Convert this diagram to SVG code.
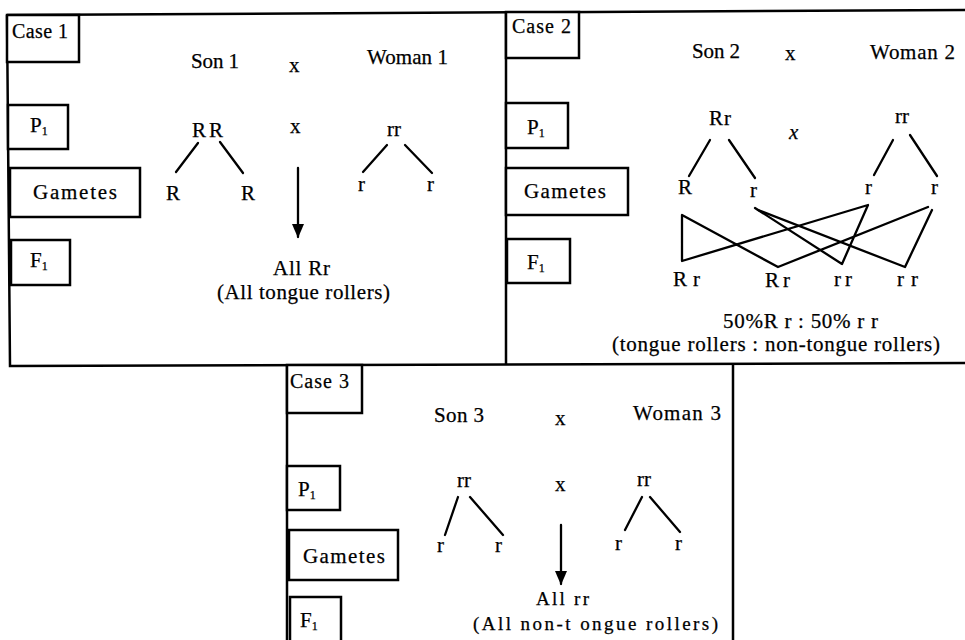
<svg xmlns="http://www.w3.org/2000/svg" width="965" height="640" viewBox="0 0 965 640">
<defs>
<style>
.t{font-family:"Liberation Serif","Times New Roman",serif;font-size:21px;fill:#000;stroke:#000;stroke-width:0.25}
.s{font-size:20px}
.m{font-size:19px}
.sub{font-size:12px}
.b{fill:#fff;stroke:#000;stroke-width:2.5}
.frame{fill:none;stroke:#000;stroke-width:2.5}
.ln{fill:none;stroke:#000;stroke-width:2.3;stroke-linecap:round;stroke-linejoin:round}
</style>
<marker id="ah" markerWidth="14" markerHeight="12" refX="13" refY="6" orient="auto" markerUnits="userSpaceOnUse" viewBox="0 0 14 12">
<path d="M0,0 L14,6 L0,12 Z" fill="#000"/>
</marker>
</defs>
<rect width="965" height="640" fill="#fff"/>

<g id="frames">
<path class="frame" d="M7,15 L965,10"/>
<path class="frame" d="M7,15 L10,366 L965,363"/>
<path class="frame" d="M506,12 L506,364"/>
<path class="frame" d="M287,366 L287,640"/>
<path class="frame" d="M733,364 L733,640"/>
</g>

<g id="case1">
<g id="c1-label"><rect class="b" x="7" y="15" width="72" height="47"/><text class="t s" x="12" y="38" textLength="56">Case 1</text></g>
<g id="c1-p1"><rect class="b" x="8" y="105" width="60" height="44"/><text class="t" x="30" y="132">P<tspan class="sub" dy="3">1</tspan></text></g>
<g id="c1-gam"><rect class="b" x="10" y="168" width="130" height="49"/><text class="t" x="33" y="199" textLength="84">Gametes</text></g>
<g id="c1-f1"><rect class="b" x="11" y="240" width="59" height="45"/><text class="t" x="30" y="267">F<tspan class="sub" dy="3">1</tspan></text></g>
<text class="t" x="191" y="68" textLength="48">Son 1</text>
<text class="t" x="289" y="72">x</text>
<text class="t" x="367" y="64" textLength="81">Woman 1</text>
<text class="t" x="192" y="137" textLength="31">RR</text>
<text class="t" x="290" y="133">x</text>
<text class="t" x="387" y="136">rr</text>
<text class="t" x="166" y="200">R</text>
<text class="t" x="241" y="200">R</text>
<text class="t" x="358" y="191">r</text>
<text class="t" x="427" y="191">r</text>
<text class="t" x="273" y="275" textLength="57">All Rr</text>
<text class="t" x="217" y="299" textLength="173">(All tongue rollers)</text>
</g>

<g id="case2">
<g id="c2-label"><rect class="b" x="506" y="12" width="73" height="46"/><text class="t s" x="512" y="33" textLength="59">Case 2</text></g>
<g id="c2-p1"><rect class="b" x="506" y="103" width="62" height="45"/><text class="t" x="527" y="134">P<tspan class="sub" dy="3">1</tspan></text></g>
<g id="c2-gam"><rect class="b" x="506" y="168" width="122" height="47"/><text class="t" x="524" y="198" textLength="82">Gametes</text></g>
<g id="c2-f1"><rect class="b" x="507" y="239" width="63" height="44"/><text class="t" x="527" y="269">F<tspan class="sub" dy="3">1</tspan></text></g>
<text class="t" x="692" y="58" textLength="48">Son 2</text>
<text class="t" x="785" y="60">x</text>
<text class="t" x="870" y="59" textLength="85">Woman 2</text>
<text class="t" x="709" y="125" textLength="22">Rr</text>
<text class="t" x="789" y="139" font-style="italic">x</text>
<text class="t" x="895" y="123">rr</text>
<text class="t" x="678" y="194">R</text>
<text class="t" x="750" y="197">r</text>
<text class="t" x="865" y="194">r</text>
<text class="t" x="931" y="194">r</text>
<text class="t" x="673" y="286" textLength="27">R r</text>
<text class="t" x="765" y="287" textLength="25">R r</text>
<text class="t" x="834" y="286" textLength="18">r r</text>
<text class="t" x="897" y="286" textLength="21">r r</text>
<text class="t" x="723" y="328" textLength="155">50%R r : 50% r r</text>
<text class="t" x="612" y="351" textLength="328">(tongue rollers : non-tongue rollers)</text>
</g>

<g id="case3">
<g id="c3-label"><rect class="b" x="287" y="365" width="75" height="48"/><text class="t s" x="290" y="388" textLength="59">Case 3</text></g>
<g id="c3-p1"><rect class="b" x="287" y="466" width="53" height="44"/><text class="t" x="298" y="496">P<tspan class="sub" dy="3">1</tspan></text></g>
<g id="c3-gam"><rect class="b" x="289" y="530" width="109" height="50"/><text class="t" x="303" y="563" textLength="82">Gametes</text></g>
<g id="c3-f1"><rect class="b" x="290" y="597" width="51" height="50"/><text class="t" x="300" y="627">F<tspan class="sub" dy="3">1</tspan></text></g>
<text class="t" x="434" y="422" textLength="50">Son 3</text>
<text class="t" x="555" y="425">x</text>
<text class="t" x="633" y="420" textLength="88">Woman 3</text>
<text class="t" x="457" y="487">rr</text>
<text class="t" x="555" y="491">x</text>
<text class="t" x="637" y="486">rr</text>
<text class="t" x="437" y="552">r</text>
<text class="t" x="495" y="552">r</text>
<text class="t" x="615" y="550">r</text>
<text class="t" x="675" y="550">r</text>
<text class="t m" x="536" y="605" textLength="53">All rr</text>
<text class="t m" x="473" y="630" textLength="245">(All non-t ongue rollers)</text>
</g>

<g id="connectors">
<path class="ln" d="M198,143 L176,172 M220,142 L243,173"/>
<path class="ln" d="M387,145 L363,172 M405,145 L432,173"/>
<path class="ln" d="M298,168 L298,237" marker-end="url(#ah)"/>
<path class="ln" d="M710,140 L689,176 M729,140 L755,178"/>
<path class="ln" d="M893,140 L874,175 M910,135 L937,176"/>
<path class="ln" d="M928,207 L778,267 L682,215 L682,261 L868,205 L842,264 L755,208"/>
<path class="ln" d="M758,210 L905,267 L932,210"/>
<path class="ln" d="M458,497 L445,535 M470,497 L503,535"/>
<path class="ln" d="M642,497 L625,530 M650,497 L680,532"/>
<path class="ln" d="M561,525 L561,584" marker-end="url(#ah)"/>
</g>
</svg>
